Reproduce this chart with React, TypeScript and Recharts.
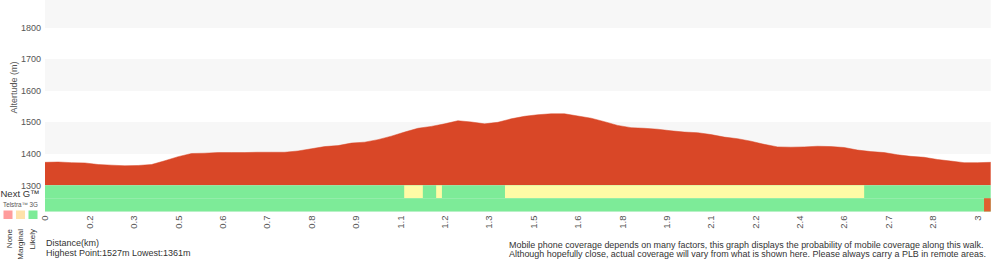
import {
  ComposedChart,
  Area,
  XAxis,
  YAxis,
  CartesianGrid,
  ReferenceArea,
} from "recharts";

// position along the walk, in x-axis index units (10 units per labelled tick)
const sampleIdx = [
  0, 3, 6, 9, 12, 15, 18, 21, 24, 27, 30, 33, 36, 39, 42, 45, 48, 51, 54, 57,
  60, 63, 66, 69, 72, 75, 78, 81, 84, 87, 90, 93, 96, 99, 102, 105, 108, 111,
  114, 117, 120, 123, 126, 129, 132, 135, 138, 141, 144, 147, 150, 153, 156,
  159, 162, 165, 168, 171, 174, 177, 180, 183, 186, 189, 192, 195, 198, 201,
  204, 207, 210, 213,
];

// altitude in metres
const altitude = [
  1373, 1374, 1372, 1371, 1366, 1364, 1362, 1363, 1366, 1378,
  1391, 1401, 1402, 1404, 1404, 1404, 1405, 1405, 1405, 1409,
  1416, 1423, 1426, 1434, 1437, 1445, 1456, 1469, 1481, 1487,
  1495, 1505, 1501, 1495, 1500, 1511, 1519, 1524, 1527, 1527,
  1520, 1513, 1502, 1490, 1483, 1481, 1478, 1473, 1469, 1467,
  1461, 1453, 1448, 1440, 1430, 1422, 1421, 1422, 1424, 1423,
  1420, 1412, 1407, 1404, 1397, 1392, 1389, 1382, 1377, 1372,
  1372, 1373,
];

const tickIdx = [
  0, 10, 20, 30, 40, 50, 60, 70, 80, 90, 100, 110, 120, 130, 140, 150, 160,
  170, 180, 190, 200, 210,
];
const tickLabels = [
  "0", "0.2", "0.3", "0.5", "0.6", "0.7", "0.8", "0.9", "1.1", "1.2", "1.3",
  "1.5", "1.6", "1.8", "1.9", "2.1", "2.2", "2.4", "2.6", "2.7", "2.8", "3",
];
const altTicks = [1300, 1400, 1500, 1600, 1700, 1800];

// coverage bands (index units)
const nextGMarginalFrom = [80.9, 88.1, 103.6];
const nextGMarginalTo = [85.1, 89.4, 184.5];
const telstraNoneFrom = [211.5];
const telstraNoneTo = [213];

const data = sampleIdx.map((k, i) => ({ k, alt: altitude[i] }));

const RED = "#d94727";
const GREEN = "#7deb98";
const YELLOW = "#fffba6";
const NONE_RED = "#e0602f";
const FONT = "'Liberation Sans', Arial, Helvetica, sans-serif";

function DistTick(props: any) {
  const { x, y, payload } = props;
  const label = tickLabels[tickIdx.indexOf(payload.value)];
  return (
    <text
      x={x}
      y={y}
      transform={`rotate(-90 ${x} ${y})`}
      textAnchor="end"
      dy="0.35em"
      fontSize={9.5}
      fontFamily={FONT}
      fill="#555"
    >
      {label}
    </text>
  );
}

function AltLabel() {
  return (
    <text
      x={16.5}
      y={87.5}
      transform="rotate(-90 16.5 87.5)"
      textAnchor="middle"
      fontSize={9}
      fontFamily={FONT}
      fill="#555"
    >
      Altertude (m)
    </text>
  );
}

export default function App() {
  return (
    <div
      style={{
        position: "absolute",
        left: 0,
        top: 0,
        width: 1000,
        height: 260,
        fontFamily: FONT,
        background: "#fff",
      }}
    >
      <ComposedChart
        width={1000}
        height={260}
        data={data}
        margin={{ top: 0, right: 9.3, bottom: 0, left: 0 }}
      >
        <CartesianGrid
          vertical={false}
          stroke="transparent"
          horizontalFill={["#f7f7f7", "#ffffff"]}
          fillOpacity={1}
        />
        <XAxis
          dataKey="k"
          type="number"
          domain={[0, 213]}
          ticks={tickIdx}
          interval={0}
          axisLine={false}
          tickLine={false}
          tickSize={0}
          tickMargin={4}
          height={48.5}
          tick={<DistTick />}
        />
        <YAxis
          type="number"
          domain={[1217, 1888]}
          allowDataOverflow
          ticks={altTicks}
          axisLine={false}
          tickLine={false}
          tickSize={2}
          tickMargin={2}
          width={45}
          tick={{ fontSize: 9, fill: "#555", fontFamily: FONT }}
          label={{ content: <AltLabel /> }}
        />
        <Area
          type="linear"
          dataKey="alt"
          baseValue={1300}
          fill={RED}
          fillOpacity={1}
          stroke={RED}
          strokeWidth={0.5}
          isAnimationActive={false}
        />
        {/* Next G band */}
        <ReferenceArea
          x1={0}
          x2={213}
          y1={1259}
          y2={1300}
          fill={GREEN}
          fillOpacity={1}
          stroke="none"
        />
        {nextGMarginalFrom.map((from, i) => (
          <ReferenceArea
            key={"ng" + i}
            x1={from}
            x2={nextGMarginalTo[i]}
            y1={1259}
            y2={1300}
            fill={YELLOW}
            fillOpacity={1}
            stroke="none"
          />
        ))}
        {/* Telstra 3G band */}
        <ReferenceArea
          x1={0}
          x2={213}
          y1={1217}
          y2={1259}
          fill={GREEN}
          fillOpacity={1}
          stroke="none"
        />
        {telstraNoneFrom.map((from, i) => (
          <ReferenceArea
            key={"t3" + i}
            x1={from}
            x2={telstraNoneTo[i]}
            y1={1217}
            y2={1259}
            fill={NONE_RED}
            fillOpacity={1}
            stroke="none"
          />
        ))}
      </ComposedChart>

      <svg
        width={1000}
        height={260}
        style={{ position: "absolute", left: 0, top: 0, pointerEvents: "none" }}
        fontFamily={FONT}
      >
        <text x={0.5} y={196.5} fontSize={9.5} fill="#333">
          Next G™
        </text>
        <text x={3} y={206.5} fontSize={6.3} fill="#555">
          Telstra™ 3G
        </text>
        <rect x={3.5} y={210.5} width={9} height={8.5} fill="#ff9c9c" />
        <rect x={16} y={210.5} width={9} height={8.5} fill="#ffe2aa" />
        <rect x={28.5} y={210.5} width={9} height={8.5} fill={GREEN} />
        <text x={12} y={229} transform="rotate(-90 12 229)" textAnchor="end" fontSize={8} fill="#333">
          None
        </text>
        <text x={23} y={229} transform="rotate(-90 23 229)" textAnchor="end" fontSize={8} fill="#333">
          Marginal
        </text>
        <text x={35} y={229} transform="rotate(-90 35 229)" textAnchor="end" fontSize={8} fill="#333">
          Likely
        </text>
        <text x={46} y={246} fontSize={9} fill="#333">
          Distance(km)
        </text>
        <text x={46} y={256} fontSize={9} fill="#333">
          Highest Point:1527m Lowest:1361m
        </text>
        <text x={509} y={248} fontSize={8.95} fill="#333">
          Mobile phone coverage depends on many factors, this graph displays the probability of mobile coverage along this walk.
        </text>
        <text x={509} y={257} fontSize={8.95} fill="#333">
          Although hopefully close, actual coverage will vary from what is shown here. Please always carry a PLB in remote areas.
        </text>
      </svg>
    </div>
  );
}
